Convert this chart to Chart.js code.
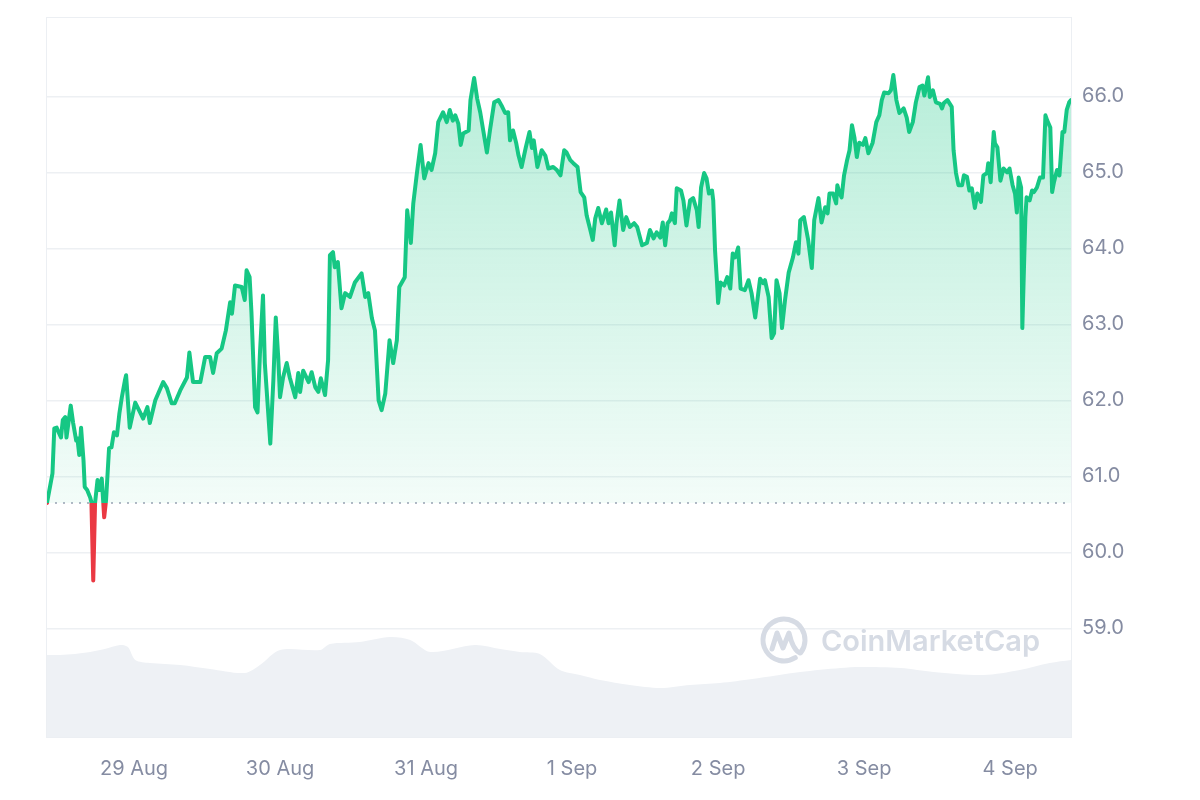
<!DOCTYPE html>
<html>
<head>
<meta charset="utf-8">
<script src="https://cdn.jsdelivr.net/npm/chart.js@4.4.1/dist/chart.umd.min.js"></script>
<style>
  html, body { margin: 0; padding: 0; background: #fff; }
  #wrap { width: 1200px; height: 800px; position: relative; }
</style>
</head>
<body>
<div id="wrap"><canvas id="priceChart"></canvas></div>
<script>
// hours counted from 28 Aug 00:00
const priceHours = [9.7,10.6,10.9,11.3,11.5,12.0,12.3,12.7,12.9,13.6,14.0,14.5,14.7,15.0,15.3,15.7,15.9,16.3,16.8,17.0,17.3,17.6,18.0,18.3,18.7,19.1,19.4,19.9,20.3,20.7,21.2,21.6,22.0,22.5,22.7,23.3,24.2,25.0,25.5,26.2,26.6,27.5,28.8,29.4,30.2,30.7,31.6,32.7,33.1,33.7,34.9,35.7,36.5,37.0,37.6,38.4,39.1,39.8,40.1,40.6,41.7,42.2,42.5,43.0,43.3,43.9,44.3,44.7,45.2,45.5,46.4,46.9,47.3,47.7,48.0,48.5,49.1,49.6,50.5,51.0,51.3,51.8,52.7,53.2,53.8,54.3,54.7,55.4,55.9,56.2,56.7,57.0,57.5,58.1,58.7,59.5,60.3,61.4,62.0,62.5,63.1,63.6,64.2,64.7,65.3,66.0,66.6,67.2,67.6,68.5,68.9,69.5,69.9,70.5,71.1,71.7,72.4,72.9,73.5,74.0,74.8,75.4,75.9,76.4,76.8,77.3,77.7,78.1,79.0,79.3,79.9,80.4,80.9,81.4,82.0,82.5,83.2,83.9,84.4,85.0,85.5,85.8,86.3,86.8,87.2,87.7,88.4,89.0,89.4,89.7,90.3,91.0,91.6,92.1,92.9,93.5,94.1,94.7,95.1,95.7,96.2,96.9,97.4,98.0,98.4,99.0,99.4,99.8,100.3,100.9,101.6,102.0,102.4,103.0,103.3,103.8,104.4,104.9,105.5,106.2,106.7,107.5,108.3,108.8,109.4,109.9,110.5,110.9,111.3,111.7,112.1,112.4,112.9,113.2,113.9,114.3,114.8,115.4,115.9,116.5,116.8,117.2,117.7,118.1,118.5,119.0,119.2,119.5,119.8,120.0,120.4,121.0,121.5,122.0,122.4,122.8,123.3,123.7,124.4,125.0,125.5,126.1,126.9,127.4,127.7,128.3,128.8,129.2,129.6,130.1,130.5,131.0,131.6,132.3,132.8,133.2,133.5,134.1,134.8,135.4,135.8,136.5,137.0,137.6,138.0,138.3,138.9,139.4,139.6,139.9,140.3,140.7,141.2,141.6,142.0,142.4,142.8,143.2,143.8,144.2,144.7,145.4,146.0,146.5,146.9,147.3,148.0,148.4,148.8,149.3,149.8,150.5,151.0,151.4,152.0,152.5,153.1,153.6,153.9,154.5,154.8,155.3,155.8,156.5,156.8,157.1,157.7,158.4,158.7,159.1,159.5,160.1,160.4,160.9,161.3,161.7,162.2,162.6,163.2,163.6,164.2,164.4,164.8,165.3,165.5,165.9,166.4,166.9,167.5,167.9,168.4,168.8,169.1,169.4,169.8,170.0,170.5,170.7,171.2,171.6,171.9,172.4,172.9,173.4,173.8,174.1,174.6,174.9,175.2,175.7,176.1,176.6,176.9,177.3,177.7,178.0];
const priceValues = [60.65,61.04,61.63,61.64,61.6,61.51,61.74,61.78,61.51,61.93,61.7,61.47,61.5,61.28,61.64,61.21,60.86,60.82,60.72,60.66,59.63,60.65,60.95,60.82,60.97,60.46,60.68,61.37,61.38,61.58,61.54,61.83,62.04,62.26,62.33,61.64,61.97,61.84,61.76,61.91,61.7,62.0,62.24,62.16,61.96,61.96,62.13,62.3,62.63,62.24,62.24,62.57,62.57,62.36,62.62,62.68,62.92,63.29,63.14,63.51,63.49,63.32,63.71,63.62,63.16,61.91,61.84,62.62,63.38,62.49,61.43,62.26,63.09,62.57,62.04,62.3,62.49,62.3,62.04,62.36,62.11,62.39,62.24,62.37,62.17,62.11,62.29,62.07,62.53,63.91,63.95,63.75,63.82,63.21,63.41,63.36,63.55,63.67,63.36,63.41,63.08,62.92,62.0,61.87,62.09,62.79,62.49,62.79,63.49,63.62,64.5,64.07,64.59,64.99,65.36,64.92,65.12,65.03,65.25,65.66,65.79,65.66,65.82,65.68,65.75,65.64,65.36,65.51,65.55,65.95,66.24,65.97,65.79,65.55,65.26,65.55,65.92,65.95,65.88,65.78,65.79,65.42,65.55,65.39,65.22,65.07,65.33,65.53,65.32,65.42,65.07,65.29,65.22,65.05,65.07,65.03,64.96,65.29,65.26,65.16,65.12,65.07,64.74,64.67,64.43,64.24,64.11,64.39,64.53,64.33,64.51,64.33,64.47,64.04,64.33,64.63,64.24,64.41,64.28,64.33,64.28,64.04,64.07,64.24,64.13,64.21,64.14,64.34,64.04,64.33,64.37,64.46,64.33,64.79,64.76,64.63,64.3,64.63,64.66,64.5,64.28,64.8,64.99,64.92,64.72,64.76,64.63,63.97,63.58,63.28,63.55,63.51,63.62,63.47,63.93,63.88,64.01,63.47,63.45,63.58,63.41,63.09,63.6,63.54,63.58,63.36,62.82,62.88,63.58,63.41,62.95,63.32,63.68,63.88,64.08,63.93,64.37,64.41,64.11,63.74,64.37,64.66,64.34,64.54,64.46,64.72,64.72,64.59,64.83,64.74,64.67,64.96,65.16,65.29,65.62,65.46,65.2,65.39,65.36,65.45,65.25,65.39,65.66,65.75,65.95,66.05,66.04,66.08,66.28,65.95,65.78,65.84,65.72,65.53,65.66,65.92,66.12,66.14,66.01,66.25,65.99,66.08,65.92,65.9,65.84,65.91,65.95,65.86,65.29,64.99,64.83,64.83,64.96,64.94,64.76,64.79,64.53,64.72,64.61,64.96,64.99,65.12,64.87,65.53,65.38,65.33,64.89,65.05,65.0,65.05,64.83,64.72,64.47,64.93,64.8,62.95,64.41,64.67,64.63,64.76,64.74,64.8,64.93,64.93,65.75,65.68,65.59,64.74,64.87,65.03,64.96,65.53,65.53,65.82,65.92,65.95];

// volume (arbitrary units), same hour scale
const volumeHours = [9.7,11.8,14.3,16.8,19.2,21.7,23.0,24.2,26.6,31.6,36.5,42.2,44.7,48.0,54.6,56.2,61.1,66.1,69.4,72.7,80.0,84.2,87.4,90.7,94.0,97.3,100.6,105.5,110.5,115.4,120.3,125.6,133.5,140.1,143.4,150.0,155.4,163.6,169.6,174.5,178.0];
const volumeValues = [82,82,83,85,88,92,90,77,74,72,68,64,72,87,87,93,95,100,97,85,92,88,85,83,67,62,57,52,49,52,54,58,65,69,70,69,65,62,67,74,77];

const openPrice = 60.65;
const dayTicks = [24, 48, 72, 96, 120, 144, 168];
const dayLabels = ['29 Aug', '30 Aug', '31 Aug', '1 Sep', '2 Sep', '3 Sep', '4 Sep'];
const priceTicks = [59, 60, 61, 62, 63, 64, 65, 66];

const GREEN = '#16C784';
const RED = '#EA3943';
const TEXT = '#858CA2';

// 邊框 + 浮水印
const framePlugin = {
  id: 'frame',
  beforeDatasetsDraw(chart) {
    const { ctx, chartArea: a } = chart;
    ctx.save();
    ctx.strokeStyle = '#ECEFF3';
    ctx.lineWidth = 1;
    ctx.strokeRect(a.left - 0.5, a.top - 0.5, a.right - a.left + 1, a.bottom - a.top + 1);
    // watermark
    ctx.strokeStyle = '#D6DBE4';
    ctx.fillStyle = '#D6DBE4';
    ctx.lineWidth = 5;
    ctx.lineCap = 'round';
    ctx.lineJoin = 'round';
    const cx = 784, cy = 640;
    ctx.beginPath();
    ctx.arc(cx, cy, 21, 0.32 * Math.PI, 2.2 * Math.PI);
    ctx.stroke();
    ctx.beginPath();
    ctx.moveTo(cx - 12, cy + 9);
    ctx.lineTo(cx - 7, cy - 7);
    ctx.lineTo(cx - 1, cy + 8);
    ctx.lineTo(cx + 5, cy - 7);
    ctx.quadraticCurveTo(cx + 9, cy + 10, cx + 16, cy + 13);
    ctx.stroke();
    ctx.font = '600 29px Inter';
    ctx.textBaseline = 'alphabetic';
    ctx.fillText('CoinMarketCap', 821, 651);
    ctx.restore();
  }
};

function priceStroke(context) {
  const chart = context.chart;
  const a = chart.chartArea;
  if (!a) return GREEN;
  const yb = chart.scales.y.getPixelForValue(openPrice);
  const f = Math.min(Math.max((yb - a.top) / (a.bottom - a.top), 0), 1);
  const g = chart.ctx.createLinearGradient(0, a.top, 0, a.bottom);
  g.addColorStop(0, GREEN);
  g.addColorStop(f, GREEN);
  g.addColorStop(f, RED);
  g.addColorStop(1, RED);
  return g;
}

function priceFill(context) {
  const chart = context.chart;
  const a = chart.chartArea;
  if (!a) return 'rgba(22,199,132,0.15)';
  const yb = chart.scales.y.getPixelForValue(openPrice);
  const f = Math.min(Math.max((yb - a.top) / (a.bottom - a.top), 0), 1);
  const g = chart.ctx.createLinearGradient(0, a.top, 0, a.bottom);
  g.addColorStop(0, 'rgba(22,199,132,0.34)');
  g.addColorStop(f, 'rgba(22,199,132,0.05)');
  g.addColorStop(f, 'rgba(234,57,67,0.05)');
  g.addColorStop(1, 'rgba(234,57,67,0.15)');
  return g;
}

const priceData = priceHours.map((h, i) => ({ x: h, y: priceValues[i] }));
const volumeData = volumeHours.map((h, i) => ({ x: h, y: volumeValues[i] }));
const baseData = [{ x: priceHours[0], y: openPrice }, { x: priceHours[priceHours.length - 1], y: openPrice }];

const ctx = document.getElementById('priceChart').getContext('2d');
const myChart = new Chart(ctx, {
  type: 'line',
  data: {
    datasets: [
      {
        label: 'Price',
        data: priceData,
        yAxisID: 'y',
        borderColor: priceStroke,
        backgroundColor: priceFill,
        fill: { value: openPrice },
        borderWidth: 4,
        borderJoinStyle: 'round',
        borderCapStyle: 'round',
        pointRadius: 0,
        tension: 0,
        order: 1
      },
      {
        label: 'Open',
        data: baseData,
        yAxisID: 'y',
        borderColor: '#9AA1B4',
        borderWidth: 1.5,
        borderDash: [2, 6],
        pointRadius: 0,
        fill: false,
        order: 2
      },
      {
        label: 'Volume',
        data: volumeData,
        yAxisID: 'vol',
        borderWidth: 0,
        borderColor: 'rgba(0,0,0,0)',
        backgroundColor: '#EEF1F5',
        fill: 'origin',
        pointRadius: 0,
        tension: 0.3,
        order: 3
      }
    ]
  },
  options: {
    responsive: true,
    maintainAspectRatio: false,
    animation: false,
    layout: { padding: { left: 47, top: 18, right: 0, bottom: 0 } },
    plugins: {
      legend: { display: false },
      tooltip: { enabled: false }
    },
    scales: {
      x: {
        type: 'linear',
        min: 9.7,
        max: 178.0,
        grid: { display: false },
        border: { display: false },
        afterBuildTicks: (scale) => { scale.ticks = dayTicks.map(v => ({ value: v })); },
        afterFit: (scale) => { scale.height = 63; scale.paddingLeft = 0; scale.paddingRight = 0; },
        ticks: {
          padding: 12,
          maxRotation: 0,
          autoSkip: false,
          color: TEXT,
          font: { family: 'Inter', size: 20 },
          callback: (v) => dayLabels[dayTicks.indexOf(v)]
        }
      },
      y: {
        position: 'right',
        min: 57.57,
        max: 67.03,
        grid: { color: '#EDF0F3', lineWidth: 1.5, drawTicks: false },
        border: { display: false },
        afterBuildTicks: (scale) => { scale.ticks = priceTicks.map(v => ({ value: v })); },
        afterFit: (scale) => { scale.width = 129; scale.paddingTop = 0; scale.paddingBottom = 0; },
        ticks: {
          padding: 11,
          color: TEXT,
          font: { family: 'Inter', size: 20 },
          callback: (v) => v.toFixed(1)
        }
      },
      vol: {
        display: false,
        min: 0,
        max: 719
      }
    }
  },
  plugins: [framePlugin]
});
</script>
</body>
</html>
